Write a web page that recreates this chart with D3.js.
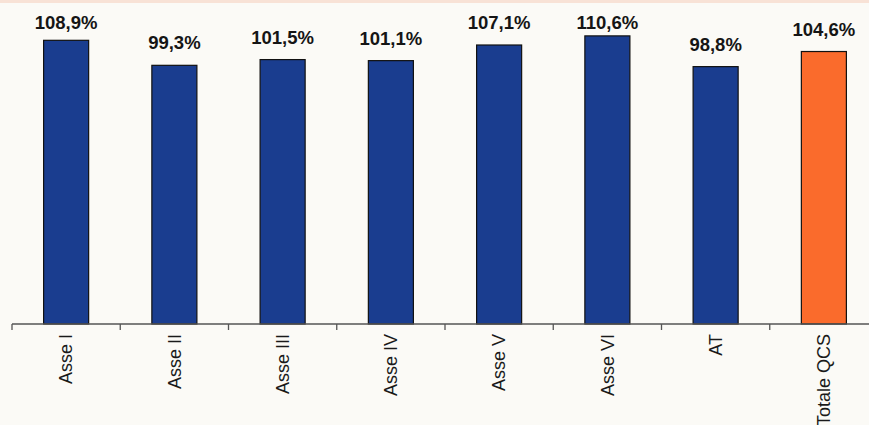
<!DOCTYPE html>
<html>
<head>
<meta charset="utf-8">
<script src="https://cdn.jsdelivr.net/npm/d3@7/dist/d3.min.js"></script>
<style>
  html, body { margin: 0; padding: 0; background: #fbfaf6; }
  svg { display: block; }
</style>
</head>
<body>
<svg id="chart" width="869" height="425"></svg>
<script>
const categories = ["Asse I", "Asse II", "Asse III", "Asse IV", "Asse V", "Asse VI", "AT", "Totale QCS"];
const values = [108.9, 99.3, 101.5, 101.1, 107.1, 110.6, 98.8, 104.6];
const valueLabels = ["108,9%", "99,3%", "101,5%", "101,1%", "107,1%", "110,6%", "98,8%", "104,6%"];
const barColors = ["#1a3d8f", "#1a3d8f", "#1a3d8f", "#1a3d8f", "#1a3d8f", "#1a3d8f", "#1a3d8f", "#fa6b2c"];

const svg = d3.select("#chart");
const W = 869, H = 425;

// faint warm strip at the top of the scanned page
svg.append("rect").attr("x", 0).attr("y", 0).attr("width", W).attr("height", 3)
  .attr("fill", "#f8e2d6");

const baseY = 324;
const x = d3.scaleBand().domain(categories).range([12, 878])
  .paddingInner(0.584).paddingOuter(0.292);
const y = d3.scaleLinear().domain([0, 100]).range([baseY, baseY - 260.5]);

const font = "'Liberation Sans', Arial, sans-serif";

// bars
svg.append("g").selectAll("rect").data(categories).join("rect")
  .attr("x", d => x(d))
  .attr("y", (d, i) => y(values[i]))
  .attr("width", x.bandwidth())
  .attr("height", (d, i) => baseY - y(values[i]))
  .attr("fill", (d, i) => barColors[i])
  .attr("stroke", "#111")
  .attr("stroke-width", 1.2);

// value labels
svg.append("g").selectAll("text").data(categories).join("text")
  .attr("x", d => x(d) + x.bandwidth() / 2)
  .attr("y", (d, i) => Math.max(y(values[i]) - 16, 29))
  .attr("text-anchor", "middle")
  .attr("font-family", font)
  .attr("font-weight", "bold")
  .attr("font-size", 18.5)
  .attr("fill", "#151515")
  .text((d, i) => valueLabels[i]);

// x axis: labels via d3 axis
const axis = d3.axisBottom(x).tickSize(0).tickPadding(0);
const gAxis = svg.append("g").attr("transform", `translate(0,${baseY})`).call(axis);
gAxis.select(".domain").remove();
gAxis.selectAll("text")
  .attr("font-family", font)
  .attr("font-size", 18)
  .attr("fill", "#1a1a1a")
  .attr("transform", "rotate(-90)")
  .attr("text-anchor", "end")
  .attr("dy", "0.35em")
  .attr("x", -10)
  .attr("y", 0);

// axis line and boundary ticks
svg.append("line").attr("x1", 12).attr("x2", W).attr("y1", baseY).attr("y2", baseY)
  .attr("stroke", "#555").attr("stroke-width", 1.3);
const bounds = d3.range(categories.length + 1).map(i => 12 + i * x.step());
svg.append("g").selectAll("line").data(bounds).join("line")
  .attr("x1", d => d).attr("x2", d => d)
  .attr("y1", baseY).attr("y2", baseY + 6)
  .attr("stroke", "#555").attr("stroke-width", 1.3);
</script>
</body>
</html>
